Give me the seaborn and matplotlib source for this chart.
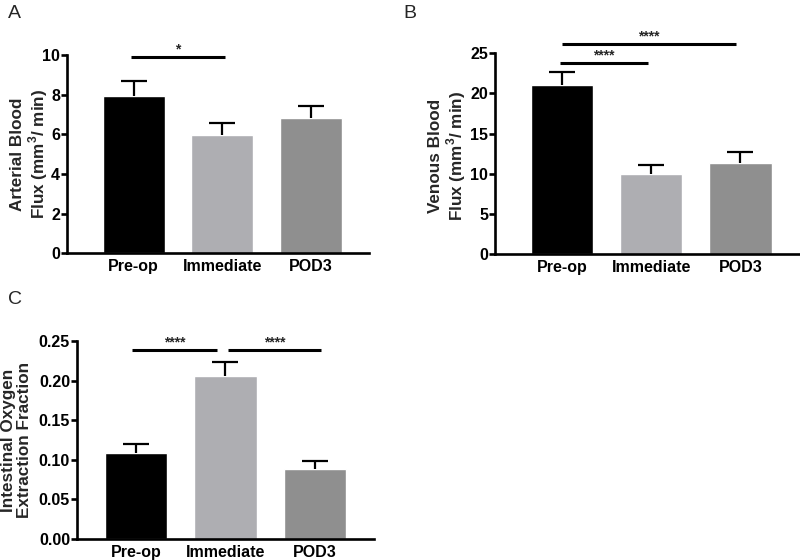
import numpy as np
import pandas as pd
import matplotlib
matplotlib.use("Agg")
import matplotlib.pyplot as plt
import seaborn as sns

# ---- data ----
groups = ["Pre-op", "Immediate", "POD3"]

arterial_mean = [7.95, 5.97, 6.82]
arterial_sem = [0.75, 0.58, 0.62]

venous_mean = [21.0, 10.0, 11.4]
venous_sem = [1.6, 1.1, 1.3]

oef_mean = [0.109, 0.206, 0.089]
oef_sem = [0.011, 0.017, 0.010]

BAR_COLORS = ["#000000", "#AEAEB2", "#8F8F8F"]

sns.set_theme(style="ticks")
plt.rcParams["font.family"] = ["Liberation Sans", "DejaVu Sans"]
plt.rcParams["mathtext.fontset"] = "custom"
plt.rcParams["mathtext.bf"] = "Liberation Sans:bold"
plt.rcParams["mathtext.rm"] = "Liberation Sans:bold"

fig = plt.figure(figsize=(8, 5.6), dpi=100)


def bar_panel(rect, means, sems, ylim, yticks, ylabel, fmt, xlim, label_xy):
    ax = fig.add_axes(rect)
    df = pd.DataFrame({"group": groups, "value": means})
    sns.barplot(data=df, x="group", y="value", hue="group", palette=BAR_COLORS,
                width=0.7, errorbar=None, legend=False, ax=ax, saturation=1)
    x = np.arange(len(groups))
    # upper-only error bars (GraphPad style)
    _, caps, _ = ax.errorbar(x, means, yerr=[np.zeros(len(sems)), sems], fmt="none",
                             ecolor="black", elinewidth=1.6, capsize=9.5, capthick=1.6)
    caps[0].set_visible(False)
    ax.set_ylim(*ylim)
    ax.set_xlim(*xlim)
    ax.set_yticks(yticks)
    ax.set_yticklabels([fmt.format(t) for t in yticks], fontsize=11.5, fontweight="bold")
    ax.set_xticks(x)
    ax.set_xticklabels(groups, fontsize=11.5, fontweight="bold")
    ax.set_xlabel("")
    ax.set_ylabel(ylabel, fontsize=12.3, fontweight="bold", linespacing=1.1)
    # x of label_xy is the right edge of the rotated label block
    ax.yaxis.set_label_coords(*label_xy)
    for s in ["top", "right"]:
        ax.spines[s].set_visible(False)
    for s in ["left", "bottom"]:
        ax.spines[s].set_linewidth(1.9)
        ax.spines[s].set_color("black")
    ax.tick_params(axis="y", length=4, width=1.9, colors="black", pad=1)
    ax.tick_params(axis="x", length=0, pad=4, colors="black")
    return ax


def sig_line(ax, x0, x1, y, ystar, text="****"):
    ax.plot([x0, x1], [y, y], color="black", lw=2.2, clip_on=False,
            solid_capstyle="butt")
    ax.text((x0 + x1) / 2, ystar, text, ha="center", va="center",
            fontsize=10, fontweight="bold", clip_on=False)


# A
axA = bar_panel([0.08375, 0.548, 0.3775, 0.3536], arterial_mean, arterial_sem,
                (0, 10), [0, 2, 4, 6, 8, 10],
                "Arterial Blood\nFlux (mm$^\\mathbf{3}$/ min)", "{:g}", (-0.754, 2.66),
                (-0.056, 0.5))
sig_line(axA, -0.03, 1.03, 9.9, 10.3, "*")

# B
axB = bar_panel([0.619, 0.546, 0.38, 0.359], venous_mean, venous_sem,
                (0, 25), [0, 5, 10, 15, 20, 25],
                "Venous Blood\nFlux (mm$^\\mathbf{3}$/ min)", "{:g}", (-0.75, 2.66),
                (-0.089, 0.49))
sig_line(axB, -0.02, 0.96, 23.75, 24.7)
sig_line(axB, 0.0, 1.95, 26.2, 27.1)

# C
axC = bar_panel([0.09625, 0.0375, 0.371, 0.3536], oef_mean, oef_sem,
                (0, 0.25), [0, 0.05, 0.10, 0.15, 0.20, 0.25],
                "Intestinal Oxygen\nExtraction Fraction", "{:.2f}", (-0.66, 2.66),
                (-0.152, 0.5))
sig_line(axC, -0.05, 0.91, 0.2386, 0.2485)
sig_line(axC, 1.03, 2.07, 0.2386, 0.2485)

# panel letters
fig.text(8 / 800, 1 - 14 / 560, "A", fontsize=14, va="center", ha="left")
fig.text(403 / 800, 1 - 14 / 560, "B", fontsize=14, va="center", ha="left")
fig.text(8 / 800, 1 - 300 / 560, "C", fontsize=14, va="center", ha="left")

fig.savefig("out.png", dpi=100)
